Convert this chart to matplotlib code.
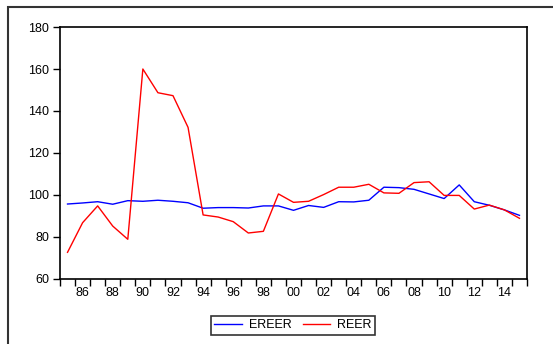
# 实际有效汇率 REER 与 EREER 走势图 (1985-2015)
import matplotlib
matplotlib.use('Agg')
import matplotlib.pyplot as plt
from matplotlib.patches import Rectangle
from matplotlib.ticker import FixedLocator

years = list(range(1985, 2016))
ereer = [95.7, 96.2, 96.8, 95.6, 97.3, 97.0, 97.5, 97.0, 96.3, 93.7,
         94.0, 94.0, 93.8, 94.8, 94.8, 92.7, 95.0, 94.1, 96.8, 96.7,
         97.5, 103.7, 103.5, 102.7, 100.5, 98.3, 104.8, 96.8, 95.1, 92.9,
         90.3]
reer = [72.7, 86.8, 94.8, 85.2, 78.9, 160.0, 148.7, 147.3, 132.2, 90.5,
        89.5, 87.3, 81.9, 82.7, 100.5, 96.5, 97.0, 100.2, 103.7, 103.7,
        105.1, 101.0, 100.8, 105.9, 106.3, 99.8, 99.8, 93.3, 95.2, 92.9,
        88.9]
label_years = list(range(1986, 2016, 2))
yticks = [60, 80, 100, 120, 140, 160, 180]

plt.rcParams['font.family'] = ['Liberation Sans', 'DejaVu Sans']

fig = plt.figure(figsize=(5.53, 3.44), dpi=100)
ax = fig.add_axes([0.1085, 0.189, 0.8445, 0.7325])

ax.plot(years, ereer, color='#0000FF', lw=1.0, label='EREER')
ax.plot(years, reer, color='#FF0000', lw=1.0, label='REER')

ax.set_xlim(1984.5, 2015.5)
ax.set_ylim(60, 180)

# 年份标签居中于数据点, 刻度线放在年份分界处
ax.xaxis.set_major_locator(FixedLocator(label_years))
ax.set_xticklabels(['%02d' % (y % 100) for y in label_years])
ax.xaxis.set_minor_locator(FixedLocator([y - 0.5 for y in range(1985, 2017)]))
ax.tick_params(axis='x', which='major', length=0, pad=6, labelsize=9)
ax.tick_params(axis='x', which='minor', length=5, width=1.0, direction='out')

ax.set_yticks(yticks)
ax.tick_params(axis='y', length=5, width=1.0, direction='out', pad=3, labelsize=9)

for sp in ax.spines.values():
    sp.set_linewidth(1.2)

fig.legend(loc='center', bbox_to_anchor=(0.530, 0.0545), ncol=2,
           frameon=True, fancybox=False, edgecolor='black', fontsize=9,
           handlelength=2.2, columnspacing=0.9, borderpad=0.3,
           handletextpad=0.55)
leg = fig.legends[0]
leg.get_frame().set_linewidth(1.2)

# 外框
fig.patches.append(Rectangle((0.0145, -0.5), 2.0, 1.479, transform=fig.transFigure,
                             fill=False, edgecolor='#333333', lw=1.5))

fig.savefig('out.png', dpi=100)
